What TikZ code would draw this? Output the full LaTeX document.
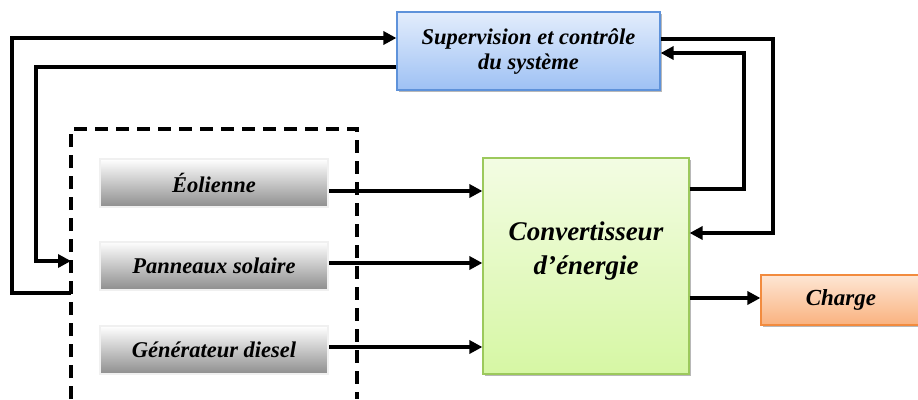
\documentclass[tikz,border=0pt]{standalone}
\usepackage{fontspec}
\setmainfont{Liberation Serif}
\usetikzlibrary{arrows.meta,shadows}
\definecolor{supTop}{HTML}{E3EDFC}
\definecolor{supBot}{HTML}{9EC1F4}
\definecolor{supBd}{HTML}{5E92DA}
\definecolor{cvTop}{HTML}{F3FCE3}
\definecolor{cvBot}{HTML}{D6F7A4}
\definecolor{cvBd}{HTML}{9CC95C}
\definecolor{chTop}{HTML}{FEE6D4}
\definecolor{chBot}{HTML}{F9B27F}
\definecolor{chBd}{HTML}{F28B3E}
\definecolor{srcBot}{HTML}{8E8E8E}
\tikzset{
  box/.style={draw, line width=1.2pt, inner sep=0pt, font=\bfseries\itshape,
    drop shadow={shadow xshift=1.5pt, shadow yshift=-2pt, fill=black!35, opacity=0.8}},
  srcbox/.style={draw=black!6, line width=2pt, top color=white, bottom color=srcBot,
    inner sep=0pt, minimum width=228pt, minimum height=48pt, font=\bfseries\itshape\fontsize{22.5}{25}\selectfont},
  wire/.style={line width=4.3pt, line cap=butt, line join=miter},
  arr/.style={wire, -{Triangle[length=13pt,width=13pt]}},
}
\begin{document}
\begin{tikzpicture}[x=1pt,y=-1pt]
\useasboundingbox (0,0) rectangle (918,399);
% dashed group
\draw[line width=3.8pt, dash pattern=on 13pt off 8pt] (71,399) -- (71,129) -- (357,129) -- (357,399);
% nodes
\node[box, draw=supBd, top color=supTop, bottom color=supBot, minimum width=263pt, minimum height=78pt,
  align=center, font=\bfseries\itshape\fontsize{22.5}{25}\selectfont] (sup) at (528.5,51) {Supervision et contrôle\\du système};
\node[box, draw=cvBd, top color=cvTop, bottom color=cvBot, minimum width=206pt, minimum height=216pt] (cv) at (586,266) {};
\node[align=center, font=\bfseries\itshape\fontsize{27}{34}\selectfont] (cvt) at (586,251) {Convertisseur\\d’énergie};
\node[box, draw=chBd, top color=chTop, bottom color=chBot, minimum width=160pt, minimum height=50pt,
  font=\bfseries\itshape\fontsize{23}{25}\selectfont] (ch) at (841,300) {Charge};
\node[srcbox] (eo) at (214,183) {Éolienne};
\node[srcbox] (pv) at (214,265.5) {Panneaux solaire};
\node[srcbox] (gd) at (214,350) {Générateur diesel};
% group anchor points
\coordinate (gA) at (71,293);
\coordinate (gB) at (71,261);
% sources to converter
\draw[arr] (eo.east |- 0,191) -- (cv.west |- 0,191);
\draw[arr] (pv.east |- 0,263) -- (cv.west |- 0,263);
\draw[arr] (gd.east |- 0,347) -- (cv.west |- 0,347);
\draw[arr] (cv.east |- 0,298) -- (ch.west |- 0,298);
% left feedback loops
\draw[arr] (gA) -- (12,293) -- (12,38) -- (sup.west |- 0,38);
\draw[arr] (sup.west |- 0,67) -- (36,67) -- (36,261) -- (gB);
% right loops
\draw[arr] (sup.east |- 0,39) -- (773,39) -- (773,233) -- (cv.east |- 0,233);
\draw[arr] (cv.east |- 0,189) -- (744,189) -- (744,53) -- (sup.east |- 0,53);
\end{tikzpicture}
\end{document}
